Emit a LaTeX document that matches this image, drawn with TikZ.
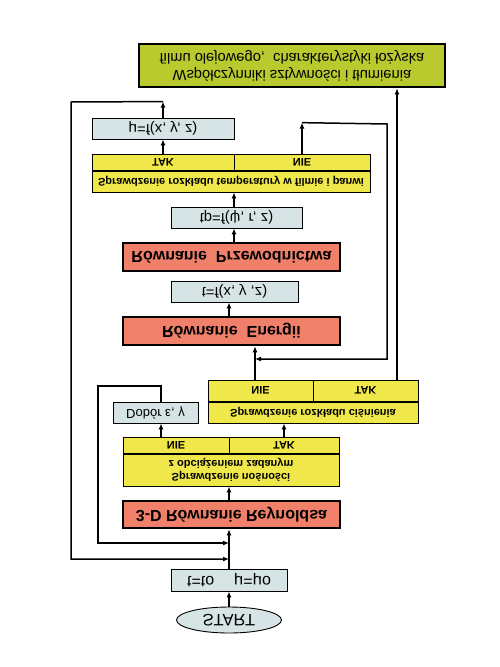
\documentclass[tikz,border=0pt]{standalone}
\usepackage{fontspec}
\setmainfont{Liberation Sans}
\usetikzlibrary{arrows.meta, positioning, shapes.geometric}
\definecolor{PanelBlue}{RGB}{214, 228, 230}
\definecolor{CheckYellow}{RGB}{240, 232, 74}
\definecolor{EquationRed}{RGB}{240, 128, 106}
\definecolor{ResultGreen}{RGB}{184, 202, 46}

\begin{document}
\begin{tikzpicture}[
        every node/.style={inner sep=0pt, align=center},
        arr/.style={-{Latex[length=6pt, width=5pt]}, line width=1.5pt},
        valbox/.style={draw, line width=0.9pt, fill=PanelBlue, font=\fontsize{14.8}{17}\selectfont},
        eqbox/.style={draw, line width=2.6pt, fill=EquationRed, minimum width=217, minimum height=28, font=\bfseries\fontsize{16}{19}\selectfont},
        chkbox/.style={draw, line width=0.9pt, fill=CheckYellow, font=\bfseries\fontsize{11}{13}\selectfont},
        resbox/.style={draw, line width=2.6pt, fill=ResultGreen, font=\fontsize{14.7}{17}\selectfont}]

    % whole chart is shown mirrored top to bottom
    \begin{scope}[yscale=-1, transform shape, x=1pt, y=1pt]
        \useasboundingbox (0,0) rectangle (500,667);

        % --- Start and Reynolds ---
        \node[ellipse, draw, line width=0.9pt, fill=PanelBlue, minimum width=105, minimum height=26, font=\fontsize{16.5}{19}\selectfont] (start) at (229,620) {START};
        \node[valbox, minimum width=116, minimum height=22, font=\fontsize{16}{19}\selectfont] (init) at (229,580) {t=to\hspace{20pt}μ=μo};
        \node[eqbox, minimum height=27] (reyn) at (231.5,514.5) {3-D Równanie Reynoldsa};

        % --- Load capacity check ---
        \node[chkbox, minimum width=216, minimum height=32] (nosn) at (231,470) {Sprawdzenie nośności\\z obciążeniem zadanym};
        \node[chkbox, minimum width=106, minimum height=16, anchor=north west] (nosnNie) at (nosn.south west) {NIE};
        \node[chkbox, minimum width=110, minimum height=16, anchor=north east] (nosnTak) at (nosn.south east) {TAK};
        \node[valbox, minimum width=85, minimum height=21, font=\fontsize{13}{15}\selectfont] (dobor) at (155.5,412.5) {Dobór ε, γ};

        % --- Pressure check ---
        \node[chkbox, minimum width=210, minimum height=21] (cis) at (313,412.5) {Sprawdzenie rozkładu ciśnienia};
        \node[chkbox, minimum width=105, minimum height=21, anchor=north west] (cisNie) at (cis.south west) {NIE};
        \node[chkbox, minimum width=105, minimum height=21, anchor=north east] (cisTak) at (cis.south east) {TAK};

        % --- Energy and conduction ---
        \node[eqbox] (energ) at (231.5,331) {Równanie\ \ Energii};
        \node[valbox, minimum width=127, minimum height=21] (tfun) at (234.5,291.5) {t=f(x, y ,z)};
        \node[eqbox] (przew) at (231.5,257) {Równanie\ \ Przewodnictwa};
        \node[valbox, minimum width=131, minimum height=21] (tpfun) at (236.5,217.5) {tp=f(ψ, r, z)};

        % --- Temperature check ---
        \node[chkbox, minimum width=278, minimum height=21] (temp) at (231,181.5) {Sprawdzenie rozkładu temperatury w filmie i panwi};
        \node[chkbox, minimum width=142, minimum height=16, anchor=north west] (tempTak) at (temp.south west) {TAK};
        \node[chkbox, minimum width=136, minimum height=16, anchor=north east] (tempNie) at (temp.south east) {NIE};
        \node[valbox, minimum width=142, minimum height=21] (mufun) at (163,128.5) {μ=f(x, y, z)};

        % --- Result ---
        \node[resbox, minimum width=306, minimum height=43] (wsp) at (292,65.5) {Współczynniki sztywności i tłumienia\\filmu olejowego,\ \ charakterystyki łożyska};

        % junctions and columns
        \coordinate (jA) at (229,559);
        \coordinate (jB) at (229,543);
        \coordinate (jC) at (255,359);
        \coordinate (colD) at (161,0);
        \coordinate (colE) at (255,0);
        \coordinate (colW) at (397,0);
        \coordinate (colP) at (234,0);

        % --- Connectors ---
        \draw[arr] (start) -- (init);
        \draw[arr] (init) -- (init |- reyn.north);
        \draw[arr] (init |- reyn.south) -- (init |- nosn.north);
        \draw[arr] (nosnNie.south -| colD) -- (colD |- dobor.north);
        \draw[arr] (colD |- dobor.south) |- (98,386) |- (jB);
        \draw[arr] (nosnTak) -- (nosnTak |- cis.north);
        \draw[arr] (cisNie.south -| colE) -- (colE |- energ.north);
        \draw[arr] (cisTak.south -| colW) -- (colW |- wsp.north);
        \draw[arr] (init |- energ.south) -- (init |- tfun.north);
        \draw[arr] (przew.south -| colP) -- (colP |- tpfun.north);
        \draw[arr] (tpfun.south -| colP) -- (colP |- temp.north);
        \draw[arr] (tempTak) -- (tempTak |- mufun.north);
        \draw[arr] (tempNie.south) -- ++(0,-31) coordinate (nieOut);
        \draw[arr] (nieOut) -- (387,124) |- (jC);
        \draw[arr] (mufun.south) -- ++(0,-16) coordinate (muOut);
        \draw[arr] (muOut) -- (71,102) |- (jA);
    \end{scope}

\end{tikzpicture}
\end{document}
